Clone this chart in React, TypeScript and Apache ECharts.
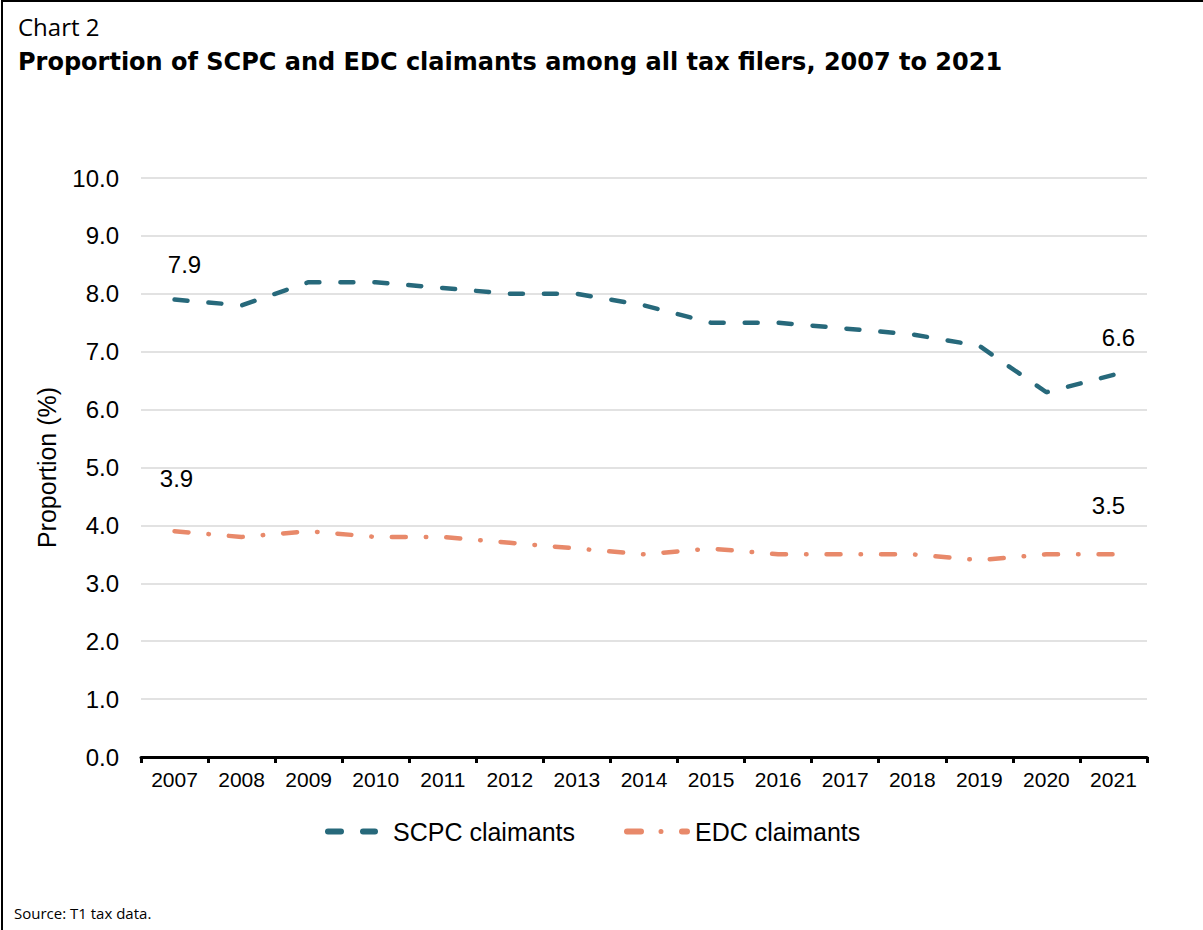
import React, { useEffect, useRef } from "react";
import * as echarts from "echarts";

const years = ["2007", "2008", "2009", "2010", "2011", "2012", "2013", "2014", "2015", "2016", "2017", "2018", "2019", "2020", "2021"];
const scpc = [7.9, 7.8, 8.2, 8.2, 8.1, 8.0, 8.0, 7.8, 7.5, 7.5, 7.4, 7.3, 7.1, 6.3, 6.6];
const edc = [3.9, 3.8, 3.9, 3.8, 3.8, 3.7, 3.6, 3.5, 3.6, 3.5, 3.5, 3.5, 3.4, 3.5, 3.5];
const seriesNames = ["SCPC claimants", "EDC claimants"];
const chartLabel = "Chart 2";
const chartTitle = "Proportion of SCPC and EDC claimants among all tax filers, 2007 to 2021";
const sourceText = "Source: T1 tax data.";
const yAxisName = "Proportion (%)";

const AX = "'Liberation Sans', Arial, sans-serif";
const TT = "'Open Sans', 'Noto Sans', sans-serif";
const TB = "'DejaVu Sans', 'Open Sans', sans-serif";

const SCPC_COLOR = "#27697b";
const EDC_COLOR = "#e8896a";

const dashIcon =
  "path://M3 0 L16 0 A3 3 0 0 1 16 6 L3 6 A3 3 0 0 1 3 0 Z " +
  "M38 0 L50 0 A3 3 0 0 1 50 6 L38 6 A3 3 0 0 1 38 0 Z";
const dashDotIcon =
  "path://M3 0 L17 0 A3 3 0 0 1 17 6 L3 6 A3 3 0 0 1 3 0 Z " +
  "M34.5 3 A2.5 2.5 0 1 1 39.5 3 A2.5 2.5 0 1 1 34.5 3 Z " +
  "M58 0 L63 0 A3 3 0 0 1 63 6 L58 6 A3 3 0 0 1 58 0 Z";

function withEndLabels(vals: number[], firstOffset: number[], lastOffset: number[]) {
  return vals.map((v, i) => {
    if (i === 0 || i === vals.length - 1) {
      return {
        value: v,
        label: {
          show: true,
          position: "top",
          distance: 5,
          offset: i === 0 ? firstOffset : lastOffset,
          fontFamily: AX,
          fontSize: 24,
          color: "#000",
        },
      };
    }
    return v;
  });
}

export default function App() {
  const ref = useRef<HTMLDivElement>(null);
  useEffect(() => {
    if (!ref.current) return;
    const chart = echarts.init(ref.current, null, { renderer: "svg" });
    chart.setOption({
      animation: false,
      backgroundColor: "#fff",
      graphic: [
        {
          type: "polyline",
          shape: { points: [[2, 930], [2, 1], [1203, 1]] },
          style: { stroke: "#000", lineWidth: 2, fill: "none" },
          silent: true,
        },
        {
          type: "text",
          left: 18,
          top: 14,
          style: { text: chartLabel, font: `24px ${TT}`, fill: "#000" },
        },
        {
          type: "text",
          left: 18,
          top: 50,
          style: { text: chartTitle, font: `bold 24px ${TB}`, fill: "#000" },
        },
        {
          type: "text",
          left: 14,
          top: 905,
          style: { text: sourceText, font: `15px ${TT}`, fill: "#000" },
        },
      ],
      grid: { left: 141, right: 56, top: 178, bottom: 173, containLabel: false },
      legend: [
        {
          left: 320,
          top: 814,
          itemWidth: 53,
          itemHeight: 6,
          textStyle: { fontFamily: AX, fontSize: 25, color: "#000", padding: [0, 0, 0, 10] },
          data: [{ name: seriesNames[0], icon: dashIcon }],
        },
        {
          left: 619,
          top: 814,
          itemWidth: 66,
          itemHeight: 6,
          textStyle: { fontFamily: AX, fontSize: 25, color: "#000" },
          data: [{ name: seriesNames[1], icon: dashDotIcon }],
        },
      ],
      xAxis: {
        type: "category",
        data: years,
        boundaryGap: true,
        axisLine: { lineStyle: { color: "#000", width: 3 } },
        axisTick: { show: true, length: 6, lineStyle: { color: "#000", width: 3 } },
        axisLabel: { fontFamily: AX, fontSize: 21, color: "#000", margin: 12 },
      },
      yAxis: {
        type: "value",
        min: 0,
        max: 10,
        interval: 1,
        name: yAxisName,
        nameLocation: "middle",
        nameGap: 82,
        nameTextStyle: { fontFamily: AX, fontSize: 25, color: "#000" },
        axisLine: { show: false },
        axisTick: { show: false },
        axisLabel: {
          fontFamily: AX,
          fontSize: 24,
          color: "#000",
          margin: 22,
          formatter: (v: number) => v.toFixed(1),
        },
        splitLine: { lineStyle: { color: "#d9d9d9", width: 1.5 } },
      },
      series: [
        {
          name: seriesNames[0],
          type: "line",
          data: withEndLabels(scpc, [10, -18], [5, -20]),
          symbol: "circle",
          symbolSize: 0,
          showAllSymbol: true,
          lineStyle: { color: SCPC_COLOR, width: 4.5, type: [13, 21], cap: "round" },
          itemStyle: { color: SCPC_COLOR },
        },
        {
          name: seriesNames[1],
          type: "line",
          data: withEndLabels(edc, [2, -36], [-5, -32]),
          symbol: "circle",
          symbolSize: 0,
          showAllSymbol: true,
          lineStyle: { color: EDC_COLOR, width: 4.5, type: [14, 20, 0.5, 20], cap: "round" },
          itemStyle: { color: EDC_COLOR },
        },
      ],
    });
    return () => chart.dispose();
  }, []);
  return (
    <div
      ref={ref}
      style={{ position: "absolute", left: 0, top: 0, width: 1203, height: 930 }}
    />
  );
}
